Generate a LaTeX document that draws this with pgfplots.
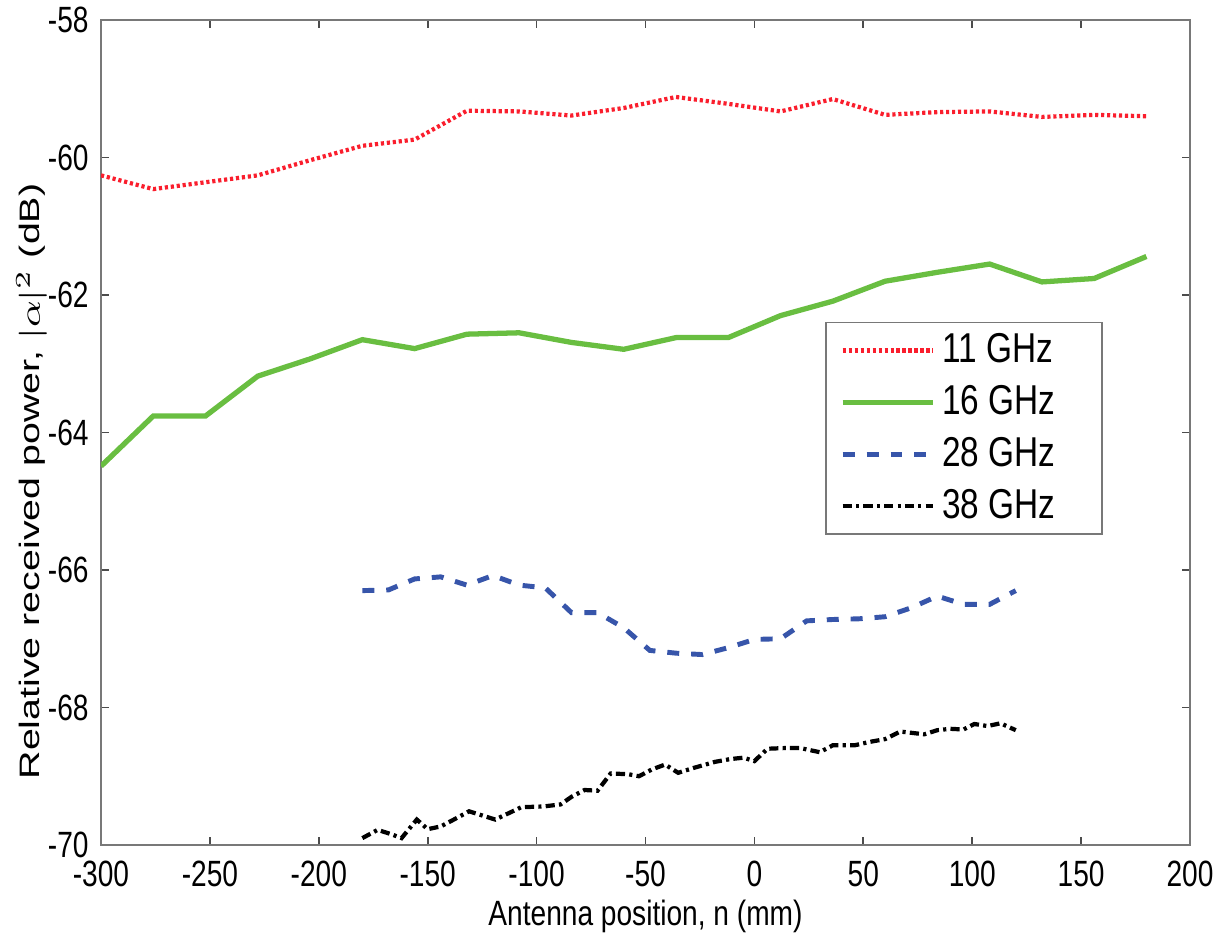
\documentclass[border=0pt]{standalone}
\usepackage{fontspec}
\setmainfont{Liberation Sans}
\usepackage{graphicx}
\usepackage{pgfplots}
\pgfplotsset{compat=1.18}
\definecolor{c11}{RGB}{250,30,45}
\definecolor{c16}{RGB}{105,190,65}
\definecolor{c28}{RGB}{55,85,170}
\definecolor{axgray}{RGB}{120,120,120}

\begin{document}
\begin{tikzpicture}
\begin{axis}[scale only axis, width=10.89cm, height=8.25cm,
  xmin=-300, xmax=200, ymin=-70, ymax=-58,
  xtick={-300,-250,...,200}, ytick={-70,-68,...,-58},
  axis line style={axgray, line width=0.7pt},
  major tick style={black!70, line width=0.5pt}, major tick length=0.08cm,
  /pgf/number format/assume math mode=true,
  tick label style={font=\fontsize{8}{9}\selectfont, yscale=1.3},
  xlabel style={font=\fontsize{8}{9}\selectfont, yscale=1.25, yshift=4pt},
  ylabel style={font=\fontsize{8}{9}\selectfont, xscale=1.4, yshift=-0.23cm, xshift=-0.35cm},
  xlabel={Antenna position, n (mm)},
  ylabel={Relative received power, $|\alpha|^2$ (dB)},
  legend style={at={(0.92,0.634)}, anchor=north east, draw=axgray,
    font=\fontsize{9.5}{10}\selectfont, row sep=1pt,
    inner xsep=4pt, inner ysep=1pt},
  legend cell align=left,
  legend image code/.code={\draw[#1] (0cm,0cm) -- (0.9cm,0cm);}]
\addplot[c11, line width=1.2pt, dash pattern=on 0.9pt off 0.8pt] coordinates {
(-300,-60.26) (-276,-60.46) (-252,-60.36) (-228,-60.26) (-204,-60.04)
(-180,-59.83) (-156,-59.74) (-132,-59.32) (-108,-59.33) (-84,-59.39)
(-60,-59.28) (-36,-59.12) (-12,-59.22) (12,-59.33) (36,-59.15)
(60,-59.38) (84,-59.34) (108,-59.33) (132,-59.41) (156,-59.38) (180,-59.40)};
\addlegendentry{\scalebox{1}[1.25]{11 GHz}\hspace*{0.28cm}}
\addplot[c16, line width=1.5pt] coordinates {
(-300,-64.49) (-276,-63.76) (-252,-63.76) (-228,-63.18) (-204,-62.93)
(-180,-62.65) (-156,-62.78) (-132,-62.57) (-108,-62.55) (-84,-62.69)
(-60,-62.79) (-36,-62.62) (-12,-62.62) (12,-62.30) (36,-62.09)
(60,-61.80) (84,-61.67) (108,-61.55) (132,-61.81) (156,-61.76) (180,-61.44)};
\addlegendentry{\scalebox{1}[1.25]{16 GHz}}
\addplot[c28, line width=1.4pt, dash pattern=on 3.4pt off 3.4pt] coordinates {
(-180,-66.30) (-168,-66.29) (-156,-66.13) (-144,-66.10) (-132,-66.22)
(-120,-66.08) (-108,-66.22) (-96,-66.26) (-84,-66.62) (-72,-66.62)
(-60,-66.84) (-48,-67.17) (-36,-67.21) (-24,-67.23) (-12,-67.13)
(0,-67.01) (12,-67.00) (24,-66.74) (36,-66.72) (48,-66.71)
(60,-66.68) (72,-66.55) (84,-66.38) (96,-66.50) (108,-66.50) (120,-66.30)};
\addlegendentry{\scalebox{1}[1.25]{28 GHz}}
\addplot[black, line width=1.2pt, dash pattern=on 2.6pt off 1.2pt on 0.9pt off 1.2pt] coordinates {
(-180,-69.90) (-173,-69.78) (-167,-69.84) (-162,-69.90) (-155,-69.63)
(-150,-69.77) (-144,-69.73) (-138,-69.63) (-131,-69.51) (-125,-69.57)
(-119,-69.63) (-113,-69.54) (-107,-69.45) (-97,-69.44) (-89,-69.41)
(-84,-69.30) (-78,-69.20) (-72,-69.21) (-66,-68.96) (-58,-68.97)
(-53,-69.00) (-47,-68.90) (-41,-68.83) (-35,-68.95) (-28,-68.88)
(-18,-68.79) (-11,-68.75) (-5,-68.73) (0,-68.78) (6,-68.60)
(14,-68.59) (21,-68.59) (30,-68.65) (36,-68.55) (46,-68.55)
(53,-68.50) (60,-68.46) (67,-68.35) (78,-68.39) (84,-68.33)
(90,-68.31) (96,-68.32) (101,-68.24) (107,-68.27) (113,-68.23) (120,-68.33)};
\addlegendentry{\scalebox{1}[1.25]{38 GHz}}
\end{axis}
\pgfresetboundingbox
\path (-1.01cm,-0.94cm) rectangle (11.24cm,8.45cm);
\end{tikzpicture}
\end{document}
